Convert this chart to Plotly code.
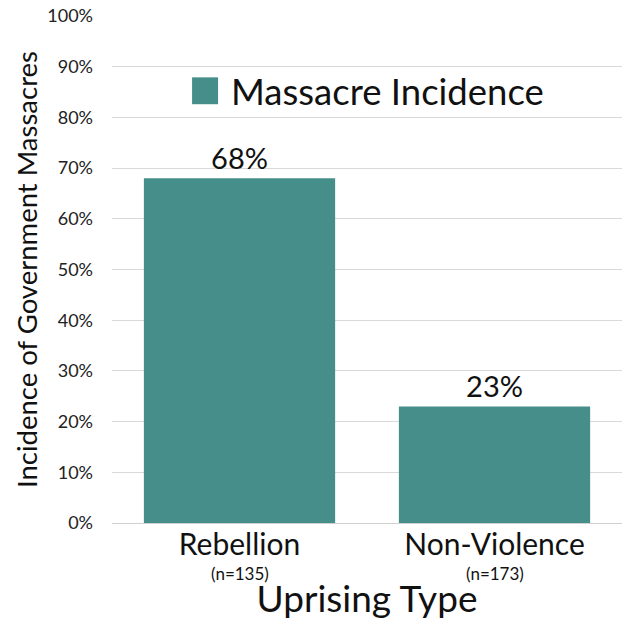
import plotly.graph_objects as go

categories = ["Rebellion", "Non-Violence"]
sample_sizes = ["(n=135)", "(n=173)"]
massacre_incidence = [0.68, 0.23]
y_ticks = [i / 10 for i in range(11)]
series_name = "Massacre Incidence"

color = "#468E8A"
font = "Lato, Carlito, Calibri, sans-serif"
text_color = "#111"

fig = go.Figure()
fig.add_trace(go.Bar(
    x=categories,
    y=massacre_incidence,
    name=series_name,
    marker=dict(color=color, line=dict(width=0)),
    text=[f"{v:.0%}" for v in massacre_incidence],
    textposition="outside",
    textfont=dict(size=29, color=text_color, family=font),
    cliponaxis=False,
    showlegend=False,
))

# sample-size sub-labels under each category
for c, n in zip(categories, sample_sizes):
    fig.add_annotation(x=c, xref="x", yref="paper", y=-0.099,
                       yanchor="middle", showarrow=False, text=n,
                       font=dict(size=17, color=text_color, family=font))

# legend drawn as swatch + label
fig.add_shape(type="rect", xref="paper", yref="paper",
              x0=0.157, x1=0.208, y0=0.826, y1=0.879,
              fillcolor=color, line=dict(width=0))
fig.add_annotation(xref="paper", yref="paper", x=0.23, y=0.852,
                   xanchor="left", yanchor="middle", showarrow=False,
                   text=series_name, font=dict(size=36.5, color=text_color, family=font))

fig.update_layout(
    width=623, height=620,
    margin=dict(l=112, r=1, t=16, b=97),
    plot_bgcolor="white", paper_bgcolor="white",
    bargap=0.25,
    font=dict(family=font, color=text_color),
    xaxis=dict(
        automargin=False,
        tickfont=dict(size=30, color=text_color),
        showline=True, linecolor="#d0d0d0", linewidth=1,
        showgrid=False, ticks="", ticklabelstandoff=-5,
        title=dict(text="Uprising Type", font=dict(size=37, color=text_color), standoff=36),
    ),
    yaxis=dict(
        automargin=False,
        range=[0, 1], tickvals=y_ticks, tickformat=".0%",
        tickfont=dict(size=18, color="#222"),
        showgrid=True, gridcolor="#d9d9d9", gridwidth=1,
        zeroline=False, ticks="", ticklabelstandoff=18,
        title=dict(text="Incidence of Government Massacres", font=dict(size=27.5, color=text_color), standoff=1),
    ),
)

fig.write_html("out.html")
